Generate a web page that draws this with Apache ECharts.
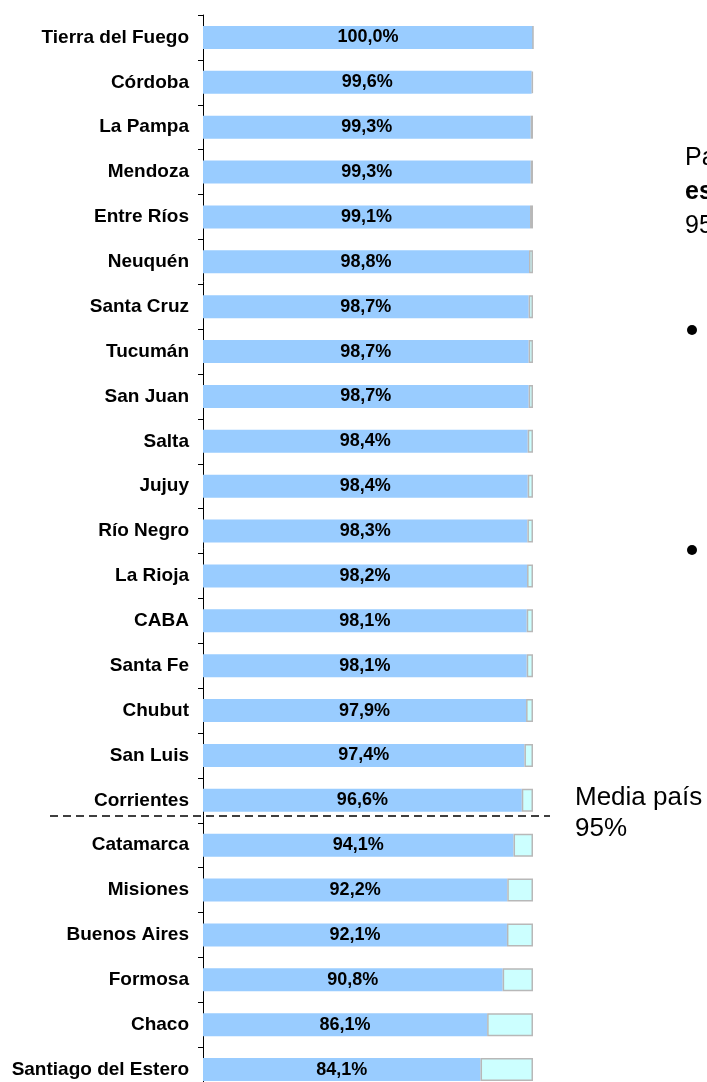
<!DOCTYPE html>
<html>
<head>
<meta charset="utf-8">
<script src="https://cdn.jsdelivr.net/npm/echarts@6/dist/echarts.min.js"></script>
<style>
  html, body { margin: 0; padding: 0; background: #fff; }
  #chart { width: 707px; height: 1082px; }
</style>
</head>
<body>
<div id="chart"></div>
<script>
// provincias, de arriba hacia abajo
const provincias = [
  'Tierra del Fuego', 'Córdoba', 'La Pampa', 'Mendoza', 'Entre Ríos', 'Neuquén',
  'Santa Cruz', 'Tucumán', 'San Juan', 'Salta', 'Jujuy', 'Río Negro',
  'La Rioja', 'CABA', 'Santa Fe', 'Chubut', 'San Luis', 'Corrientes',
  'Catamarca', 'Misiones', 'Buenos Aires', 'Formosa', 'Chaco', 'Santiago del Estero'
]
const cobertura = [
  100.0, 99.6, 99.3, 99.3, 99.1, 98.8,
  98.7, 98.7, 98.7, 98.4, 98.4, 98.3,
  98.2, 98.1, 98.1, 97.9, 97.4, 96.6,
  94.1, 92.2, 92.1, 90.8, 86.1, 84.1
]
const total = 100
const mediaPais = 'Media país\n95%'
const textoDerecha = ['Pa', 'es', '95']

const resto = cobertura.map(v => +(total - v).toFixed(1))
const fuente = '"Liberation Sans", Arial, sans-serif'

let chart = echarts.init(document.getElementById('chart'))

chart.setOption({
  backgroundColor: '#FFFFFF',
  animation: false,
  grid: { left: 203, width: 330, top: 15, height: 1077, containLabel: false, outerBoundsMode: 'none' },
  xAxis: {
    type: 'value', min: 0, max: total, show: false
  },
  yAxis: {
    type: 'category',
    data: provincias,
    inverse: true,
    axisLine: { show: true, lineStyle: { color: '#000', width: 1 } },
    axisTick: { show: true, length: 5, inside: false, lineStyle: { color: '#000' } },
    axisLabel: {
      margin: 14,
      color: '#000',
      fontWeight: 'bold',
      fontSize: 19,
      fontFamily: fuente
    },
    splitLine: { show: false }
  },
  series: [
    {
      name: 'Cobertura',
      type: 'bar',
      stack: 'total',
      barWidth: 23,
      data: cobertura,
      itemStyle: { color: '#99CCFF' },
      label: {
        show: true,
        position: 'inside',
        color: '#000',
        fontWeight: 'bold',
        fontSize: 18,
        fontFamily: fuente,
        formatter: p => p.value.toFixed(1).replace('.', ',') + '%'
      }
    },
    {
      name: 'Resto',
      type: 'bar',
      stack: 'total',
      barWidth: 23,
      data: resto,
      itemStyle: { color: '#CCFFFF', borderColor: '#B8B8B8', borderWidth: 1.5 },
      silent: true
    }
  ]
})

// linea de la media y textos laterales
let yA = chart.convertToPixel({ yAxisIndex: 0 }, 'Corrientes')
let yB = chart.convertToPixel({ yAxisIndex: 0 }, 'Catamarca')
let yMedia = yA + (yB - yA) * 0.35

chart.setOption({
  graphic: [
    {
      type: 'line',
      shape: { x1: 50, y1: yMedia, x2: 550, y2: yMedia },
      style: { stroke: '#000', lineWidth: 1.5, lineDash: [8, 5] }
    },
    {
      type: 'text',
      left: 575, top: yMedia - 34,
      style: { text: mediaPais, fontSize: 26, lineHeight: 31, fill: '#000', fontFamily: fuente }
    },
    {
      type: 'text',
      left: 685, top: 146,
      style: {
        text: '{n|' + textoDerecha[0] + '}\n{b|' + textoDerecha[1] + '}\n{n|' + textoDerecha[2] + '}',
        fill: '#000', fontFamily: fuente,
        rich: {
          n: { fontSize: 25, lineHeight: 34, fontFamily: fuente },
          b: { fontSize: 25, lineHeight: 34, fontWeight: 'bold', fontFamily: fuente }
        }
      }
    },
    {
      type: 'circle', shape: { cx: 692, cy: 330, r: 5 },
      style: { fill: '#000' }
    },
    {
      type: 'circle', shape: { cx: 692, cy: 550, r: 5 },
      style: { fill: '#000' }
    }
  ]
})
</script>
</body>
</html>
